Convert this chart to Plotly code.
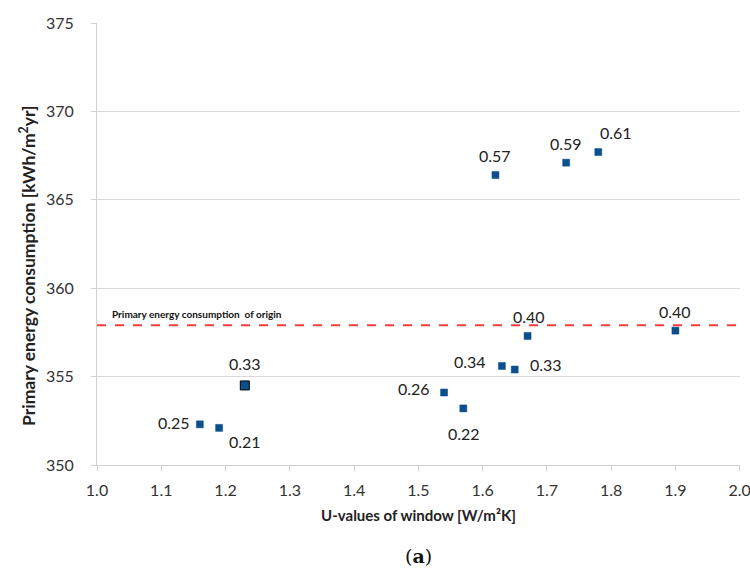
import plotly.graph_objects as go

# Data
u_values = [1.16, 1.19, 1.23, 1.54, 1.57, 1.63, 1.65, 1.67, 1.90, 1.62, 1.73, 1.78]
energy = [352.3, 352.1, 354.5, 354.1, 353.2, 355.6, 355.4, 357.3, 357.6, 366.4, 367.1, 367.7]
labels = ["0.25", "0.21", "0.33", "0.26", "0.22", "0.34", "0.33", "0.40", "0.40", "0.57", "0.59", "0.61"]
x_ticks = [1.0, 1.1, 1.2, 1.3, 1.4, 1.5, 1.6, 1.7, 1.8, 1.9, 2.0]
x_tick_labels = ["1.0", "1.1", "1.2", "1.3", "1.4", "1.5", "1.6", "1.7", "1.8", "1.9", "2.0"]
origin_value = 357.9
origin_label = "Primary energy consumption  of origin"
y_title = "Primary energy consumption [kWh/m<sup>2</sup>yr]"
x_title = "U-values of window [W/m²K]"

# label placement styles (xanchor, yanchor, xshift, yshift)
label_style = [
    ("right", "middle", -8, 2),
    ("left", "top", 8, -2),
    ("center", "bottom", 0, 10),
    ("right", "middle", -12, 4),
    ("center", "top", 1, -14),
    ("right", "middle", -14, 4),
    ("left", "middle", 13, 5),
    ("center", "bottom", 1, 8),
    ("center", "bottom", 0, 8),
    ("center", "bottom", 0, 8),
    ("center", "bottom", 0, 8),
    ("left", "bottom", 0, 8),
]

font_family = "Lato, 'Open Sans', sans-serif"

marker_colors = ["#0b4f8c"] * len(u_values)
line_colors = ["#0b4f8c"] * len(u_values)
line_colors[2] = "#000000"
sizes = [7] * len(u_values)
sizes[2] = 9

fig = go.Figure()
fig.add_trace(go.Scatter(
    x=u_values, y=energy, mode="markers",
    marker=dict(symbol="square", size=sizes, color=marker_colors, opacity=1,
                line=dict(color=line_colors, width=[0.5 if c != "#000000" else 1 for c in line_colors])),
    showlegend=False, hoverinfo="x+y",
))

fig.add_shape(type="line", xref="paper", yref="y", x0=0, x1=1, y0=origin_value, y1=origin_value,
              line=dict(color="#ff3b3b", width=2, dash="dash"))

annotations = []
for x, y, t, (xa, ya, xs, ys) in zip(u_values, energy, labels, label_style):
    annotations.append(dict(x=x, y=y, text=t, showarrow=False, xanchor=xa, yanchor=ya,
                            xshift=xs, yshift=ys, font=dict(size=16, color="#222222", family=font_family)))
annotations.append(dict(x=0.02, xref="paper", y=origin_value, yref="y", text="<b>" + origin_label + "</b>",
                        showarrow=False, xanchor="left", yanchor="bottom", yshift=3,
                        font=dict(size=10, color="#111111", family=font_family)))
annotations.append(dict(x=0.5, xref="paper", y=-0.205, yref="paper", text="(<b>a</b>)", showarrow=False,
                        xanchor="center", yanchor="middle",
                        font=dict(size=19, color="#111111", family="'DejaVu Serif', serif")))
annotations.append(dict(x=-0.109, xref="paper", y=0.45, yref="paper", text="<b>" + y_title + "</b>",
                        textangle=-90, showarrow=False, xanchor="center", yanchor="middle",
                        font=dict(size=17.5, color="#222222", family=font_family)))

fig.update_layout(
    width=750, height=571,
    margin=dict(l=97, r=10, t=23, b=106, autoexpand=False),
    plot_bgcolor="white", paper_bgcolor="white",
    annotations=annotations,
    font=dict(family=font_family, color="#333333"),
)
fig.update_xaxes(
    range=[1.0, 2.0005], tickmode="array", tickvals=x_ticks, ticktext=x_tick_labels,
    showgrid=False, zeroline=False, automargin=False,
    showline=True, linecolor="#d0d0d0", linewidth=1,
    ticks="outside", ticklen=5, tickcolor="#d0d0d0",
    tickfont=dict(size=16, color="#333333"),
    ticklabelstandoff=6, ticklabeloverflow="allow",
    title=dict(text="<b>" + x_title + "</b>", font=dict(size=15, color="#222222"), standoff=12),
)
fig.update_yaxes(
    range=[350, 375], dtick=5, automargin=False,
    showgrid=True, gridcolor="#d9d9d9", gridwidth=1, zeroline=False,
    showline=True, linecolor="#d0d0d0", linewidth=1,
    ticks="outside", ticklen=5, tickcolor="#d0d0d0",
    tickfont=dict(size=16, color="#333333"),
    ticklabelstandoff=14,
)

fig.write_html("out.html")
